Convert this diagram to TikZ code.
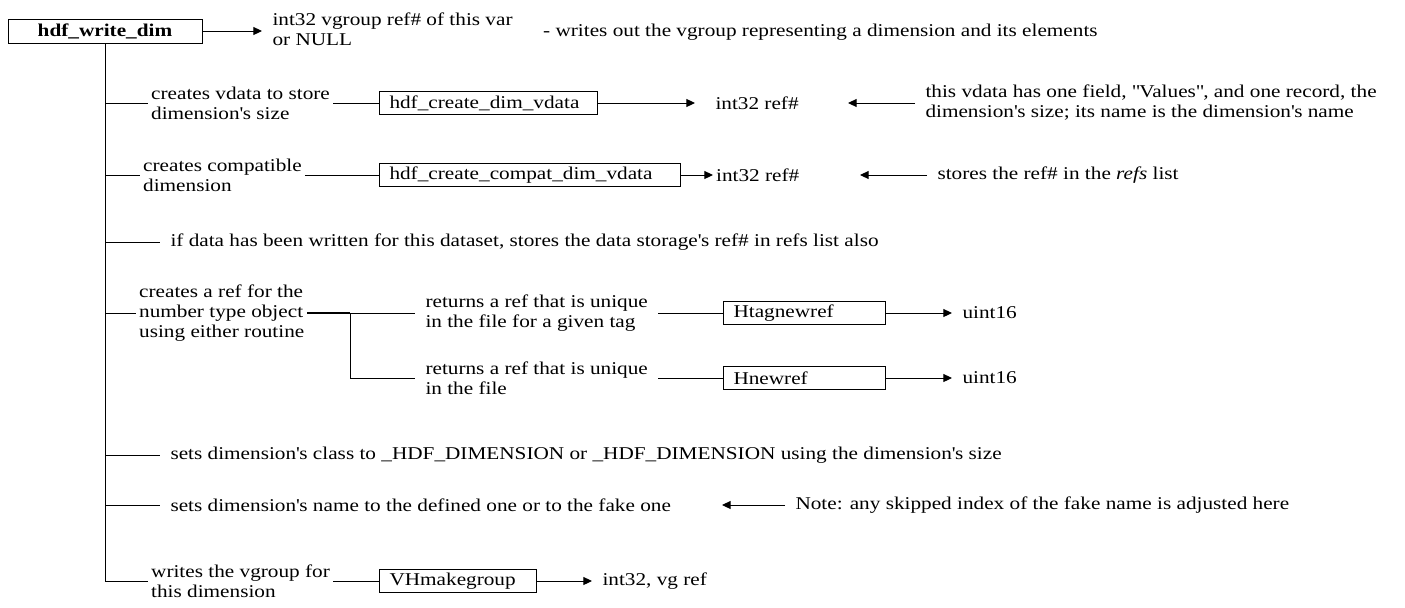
\documentclass[tikz,border=0pt]{standalone}
\usepackage{fontspec}
\setmainfont{Liberation Serif}[FakeStretch=1.18]
\usetikzlibrary{arrows.meta}
\newcommand{\q}{\textquotesingle}

\begin{document}
\begin{tikzpicture}[
    x=0.75pt, y=-0.75pt, >={Triangle[length=6.5pt,width=6pt]}, line width=0.75pt,
    font=\fontsize{13.5}{15}\selectfont,
    mfn/.style ={draw, minimum width=145.5pt, minimum height=18pt, inner ysep=0pt},
    fn/.style  ={draw, anchor=west, text width=#1, align=left, inner xsep=7.5pt, inner ysep=0pt, minimum height=17.25pt},
    lab/.style ={anchor=west, align=left, inner xsep=2pt, inner ysep=0pt},
    llab/.style={lab, inner xsep=7.5pt}
]
\useasboundingbox (0,0) rectangle (1405,607);

% main routine
\node[mfn] (wdim) at (105,31) {\bfseries hdf\_write\_dim};
\node[llab] (ret) at (262,29) {int32 vgroup ref\# of this var\\or NULL};
\node[lab] (desc) at (540,32) {- writes out the vgroup representing a dimension and its elements};
\draw[->] (wdim) -- (wdim -| ret.west);

% dimension size vdata (y=103)
\node[lab] (vdtxt) at (148,103) {creates vdata to store\\dimension\q s size};
\node[fn=148.5pt] (vdbox) at (379,103) {hdf\_create\_dim\_vdata};
\node[llab] (vdref) at (705,103) {int32 ref\#};
\node[llab] (vdnote) at (915,103) {this vdata has one field, \textquotedbl Values\textquotedbl, and one record, the\\dimension\q s size; its name is the dimension\q s name};
\coordinate (vdtip) at (848,103);
\draw (vdtxt) -- (vdbox);
\draw[->, shorten >=7.5pt] (vdbox) -- (vdref);
\draw[->] (vdnote) -- (vdtip);

% compatible dimension (y=175)
\node[lab] (cptxt) at (140,175) {creates compatible\\dimension};
\node[fn=210.75pt] (cpbox) at (379,175) {hdf\_create\_compat\_dim\_vdata};
\node[lab] (cpref) at (713,175) {int32 ref\#};
\node[llab] (cpnote) at (927,175) {stores the ref\# in the \textit{refs} list};
\coordinate (cptip) at (860,175);
\draw (cptxt) -- (cpbox);
\draw[->] (cpbox) -- (cpref);
\draw[->] (cpnote) -- (cptip);

% data storage (y=242)
\node[llab] (dstxt) at (160,242) {if data has been written for this dataset, stores the data storage\q s ref\# in refs list also};

% number type ref (y=313 / 378)
\node[lab] (crtxt) at (136,313) {creates a ref for the\\number type object\\using either routine};
\coordinate (s1) at (350,313);
\coordinate (s2) at (350,378);
\node[llab] (tagtxt) at (415,313) {returns a ref that is unique\\in the file for a given tag};
\node[fn=106.5pt] (tagbox) at (723,313) {Htagnewref};
\node[llab] (tagout) at (952,313) {uint16};
\node[llab] (newtxt) at (415,378) {returns a ref that is unique\\in the file};
\node[fn=106.5pt] (newbox) at (723,378) {Hnewref};
\node[llab] (newout) at (952,378) {uint16};
\draw[line width=1.5pt] (crtxt) -- (s1);
\draw (s1) -- (tagtxt) (s1) -- (s2) -- (newtxt);
\draw (tagtxt) -- (tagbox) (newtxt) -- (newbox);
\draw[->] (tagbox) -- (tagout);
\draw[->] (newbox) -- (newout);

% class and name (y=455 / 505)
\node[llab] (cltxt) at (160,455) {sets dimension\q s class to \_HDF\_DIMENSION or \_HDF\_DIMENSION using the dimension\q s size};
\node[llab] (nmtxt) at (160,505) {sets dimension\q s name to the defined one or to the fake one};
\node[llab] (nmnote) at (785,505) {Note: any skipped index of the fake name is adjusted here};
\coordinate (nmtip) at (722,505);
\draw[->] (nmnote) -- (nmtip);

% vgroup (y=581)
\node[lab] (wrtxt) at (148,581) {writes the vgroup for\\this dimension};
\node[fn=102.75pt] (vhbox) at (379,581) {VHmakegroup};
\node[llab] (vhout) at (592,581) {int32, vg ref};
\draw (wrtxt) -- (vhbox);
\draw[->] (vhbox) -- (vhout);

% trunk
\draw (wdim.south) -- (wdim.south |- wrtxt.west) -- (wrtxt.west);
\foreach \t in {vdtxt,cptxt,dstxt,crtxt,cltxt,nmtxt}
  \draw (wdim.south |- \t.west) -- (\t.west);
\end{tikzpicture}
\end{document}
